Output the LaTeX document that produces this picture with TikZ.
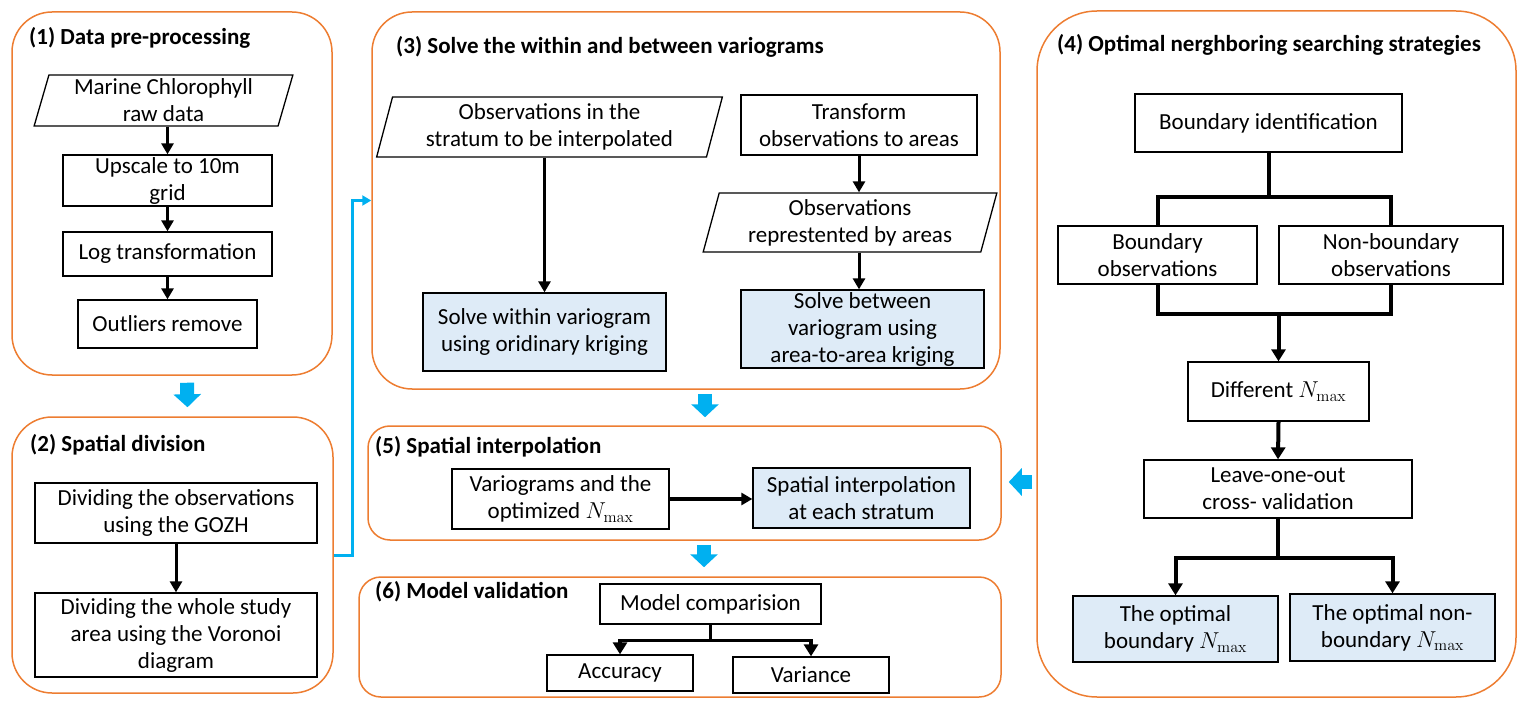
\RequirePackage{fix-cm}
\documentclass[tikz,border=0pt]{standalone}
\usepackage{amsmath}
\usepackage[no-math]{fontspec}
\setmainfont{Carlito}
\usetikzlibrary{arrows.meta,shapes.geometric}
\definecolor{panelorange}{HTML}{ED7D31}
\definecolor{arrowblue}{HTML}{00B0F0}
\definecolor{lightfill}{HTML}{DEEBF7}

\begin{document}
\begin{tikzpicture}[
	x = 1pt, y = -1pt,
	panel/.style = {draw = panelorange, line width = 1.5pt, rounded corners = 40pt, inner sep = 0pt},
	smallpanel/.style = {panel, rounded corners = 22pt},
	title/.style = {anchor = base west, inner sep = 0pt, font = \fontsize{23}{27}\selectfont\bfseries},
	box/.style = {draw, line width = 1.3pt, inner sep = 0pt, align = center, font = \fontsize{23}{27}\selectfont},
	result/.style = {box, fill = lightfill},
	data/.style = {box, trapezium, trapezium left angle = 75, trapezium right angle = 105, trapezium stretches = true},
	flow/.style = {line width = 3pt, -{Triangle[length = 11pt, width = 12pt]}},
	branch/.style = {line width = 4pt},
	branchflow/.style = {branch, -{Triangle[length = 12pt, width = 14pt]}},
	bigarrow/.style = {draw = arrowblue, line width = 14pt, -{Triangle[length = 13pt, width = 27pt]}},
	bluelink/.style = {draw = arrowblue, line width = 3pt, -{Triangle[length = 9pt, width = 10pt]}}
	]
	\useasboundingbox (0,0) rectangle (1525,708);

	\node[panel, minimum width = 320pt, minimum height = 363pt] (p1) at (172,193.5) {};
	\node[panel, minimum width = 321pt, minimum height = 276pt] (p2) at (172.5,555) {};
	\node[panel, minimum width = 628pt, minimum height = 377pt] (p3) at (686,200.5) {};
	\node[panel, minimum width = 479pt, minimum height = 686pt, rounded corners = 60pt] (p4) at (1276.5,354) {};
	\node[smallpanel, minimum width = 633pt, minimum height = 114pt] (p5) at (684.5,483) {};
	\node[smallpanel, minimum width = 642pt, minimum height = 120pt] (p6) at (680,637) {};

	\node[title] (t1) at (29,45) {(1) Data pre-processing};
	\node[title] (t2) at (30,451) {(2) Spatial division};
	\node[title] (t3) at (396,54) {(3) Solve the within and between variograms};
	\node[title] (t4) at (1057,52) {(4) Optimal nerghboring searching strategies};
	\node[title] (t5) at (375,453) {(5) Spatial interpolation};
	\node[title] (t6) at (375,598) {(6) Model validation};

	\node[data, minimum width = 259pt, minimum height = 51pt] (raw) at (163.5,100.5) {Marine Chlorophyll\\raw data};
	\node[box, minimum width = 209pt, minimum height = 51pt] (up) at (167.5,180.5) {Upscale to 10m\\grid};
	\node[box, minimum width = 209pt, minimum height = 44pt] (log) at (167.5,254) {Log transformation};
	\node[box, minimum width = 179pt, minimum height = 48pt] (out) at (167.5,324) {Outliers remove};

	\node[box, minimum width = 282pt, minimum height = 60pt] (d1) at (176,513) {Dividing the observations\\using the GOZH};
	\node[box, minimum width = 282pt, minimum height = 84pt] (d2) at (176,635) {Dividing the whole study\\area using the Voronoi\\diagram};

	\node[data, minimum width = 347pt, minimum height = 60pt] (obs) at (549.5,127) {Observations in the\\stratum to be interpolated};
	\node[result, minimum width = 243pt, minimum height = 78pt] (sw) at (544.5,332) {Solve within variogram\\using oridinary kriging};
	\node[box, minimum width = 236pt, minimum height = 60pt] (tr) at (859,125) {Transform\\observations to areas};
	\node[data, minimum width = 294pt, minimum height = 59pt] (ob2) at (850,222.5) {Observations\\represtented by areas};
	\node[result, minimum width = 243pt, minimum height = 78pt] (sb) at (862.5,329) {Solve between\\variogram using\\area-to-area kriging};

	\node[box, minimum width = 217pt, minimum height = 60pt] (vg) at (560.5,499) {Variograms and the\\optimized $N_{\max}$};
	\node[result, minimum width = 217pt, minimum height = 60pt] (sp) at (861.5,498) {Spatial interpolation\\at each stratum};

	\node[box, minimum width = 221pt, minimum height = 40pt] (mc) at (710.5,604) {Model comparision};
	\node[box, minimum width = 146pt, minimum height = 36pt] (acc) at (620,673) {Accuracy};
	\node[box, minimum width = 156pt, minimum height = 36pt] (var) at (811,675) {Variance};

	\node[box, minimum width = 267pt, minimum height = 58pt] (bid) at (1268.5,123) {Boundary identification};
	\node[box, minimum width = 199pt, minimum height = 58pt] (bo) at (1157.5,255) {Boundary\\observations};
	\node[box, minimum width = 224pt, minimum height = 58pt] (nbo) at (1391,255) {Non-boundary\\observations};
	\node[box, minimum width = 181pt, minimum height = 59pt] (dn) at (1278.5,391.5) {Different $N_{\max}$};
	\node[box, minimum width = 268pt, minimum height = 58pt] (loo) at (1278,489) {Leave-one-out\\cross- validation};
	\node[result, minimum width = 205pt, minimum height = 66pt] (ob) at (1175.5,629) {The optimal\\boundary $N_{\max}$};
	\node[result, minimum width = 205pt, minimum height = 67pt] (onb) at (1392.5,627.5) {The optimal non-\\boundary $N_{\max}$};

	\draw[flow] (up.north |- raw.south) -- (up.north);
	\draw[flow] (up.south) -- (log.north);
	\draw[flow] (log.south) -- (out.north);
	\draw[flow] (d1.south) -- (d2.north);
	\draw[flow] (sw.north |- obs.south) -- (sw.north);
	\draw[flow] (tr.south) -- (tr.south |- ob2.north);
	\draw[flow] (tr.south |- ob2.south) -- (tr.south |- sb.north);
	\draw[flow, line width = 3.5pt] (vg.east) -- (vg.east -| sp.west);
	\draw[branchflow, line width = 3.5pt] (mc.south) -- ++(0,16) -| (acc.north);
	\draw[branchflow, line width = 3.5pt] (mc.south) -- ++(0,16) -| (var.north);

	\draw[branch] (bid.south) -- ++(0,44) coordinate (j1);
	\draw[branch] (bo.north) |- (j1) -| (nbo.north);
	\draw[branch] (bo.south) -- ++(0,29) coordinate (j2) -| (nbo.south);
	\draw[branchflow] (dn.north |- j2) -- (dn.north);
	\draw[branchflow] (dn.south) -- (loo.north);
	\draw[branchflow] (loo.south) -- ++(0,39) -| (ob.north);
	\draw[branchflow] (loo.south) -- ++(0,39) -| (onb.north);

	\coordinate (in4) at (1032,482);
	\draw[bigarrow] ([xshift = 15pt, yshift = -7pt]p1.south) -- ([xshift = 15pt, yshift = 9pt]p2.north);
	\draw[bigarrow] ([xshift = 19pt, yshift = -4pt]p3.south) -- ([xshift = 20.5pt, yshift = 8pt]p5.north);
	\draw[bigarrow] ([xshift = 19.5pt, yshift = -4pt]p5.south) -- ([xshift = 24pt, yshift = 9pt]p6.north);
	\draw[bigarrow, shorten > = 7pt] (in4) -- (in4 -| p5.east);
	\draw[bluelink] (p2.east) -- ++(19,0) |- (p3.west);
\end{tikzpicture}
\end{document}
